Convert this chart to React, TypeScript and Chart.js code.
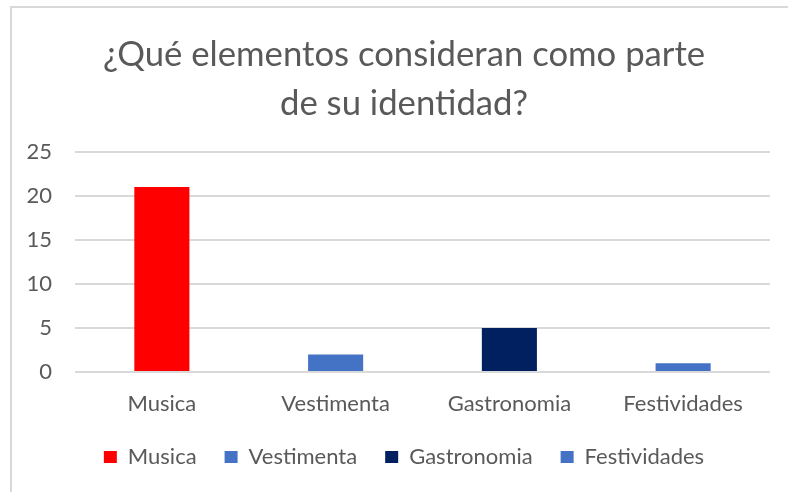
import { useEffect, useRef } from "react";
import { Chart, registerables } from "chart.js";

Chart.register(...registerables);

const categories = ["Musica", "Vestimenta", "Gastronomia", "Festividades"];
const values = [21, 2, 5, 1];
const barColors = ["#FF0000", "#4472C4", "#002060", "#4472C4"];
const titleLines = ["¿Qué elementos consideran como parte", "de su identidad?"];
const yMin = 0;
const yMax = 25;
const yStep = 5;

const FONT = "Lato";
const TEXT = "#595959";

export default function App() {
  const ref = useRef<HTMLCanvasElement>(null);
  useEffect(() => {
    const chart = new Chart(ref.current!, {
      type: "bar",
      data: {
        labels: categories,
        datasets: [
          {
            data: values,
            backgroundColor: barColors,
            borderWidth: 0,
            categoryPercentage: 1,
            barPercentage: 0.317,
          },
        ],
      },
      options: {
        animation: false,
        responsive: false,
        maintainAspectRatio: false,
        layout: { padding: { left: 0, right: -20, top: 0, bottom: 14 } },
        plugins: {
          title: {
            display: true,
            text: titleLines,
            color: TEXT,
            font: { family: FONT, size: 34.7, weight: "normal", lineHeight: 1.41 },
            padding: { top: 30, bottom: 24 },
          },
          legend: {
            position: "bottom",
            labels: {
              generateLabels: () =>
                categories.map((cat, i) => ({
                  text: cat,
                  fillStyle: barColors[i],
                  strokeStyle: barColors[i],
                  lineWidth: 0,
                  hidden: false,
                  index: i,
                  fontColor: TEXT,
                })),
              boxWidth: 13,
              boxHeight: 12,
              color: TEXT,
              font: { family: FONT, size: 22 },
              padding: 28,
            },
          },
          tooltip: { enabled: false },
        },
        scales: {
          x: {
            grid: { display: false, drawTicks: false },
            border: { display: false },
            ticks: { color: TEXT, font: { family: FONT, size: 22 }, padding: 19 },
            afterFit: (s: any) => {
              s.height = 46;
            },
          },
          y: {
            min: yMin,
            max: yMax,
            ticks: { stepSize: yStep, color: TEXT, font: { family: FONT, size: 22 }, padding: 23 },
            grid: { color: "#d9d9d9", lineWidth: 2, drawTicks: false },
            border: { display: false },
            afterFit: (s: any) => {
              s.width = 75;
            },
          },
          yRight: {
            type: "linear",
            position: "right",
            ticks: { display: false },
            grid: { display: false, drawTicks: false },
            border: { display: false },
            afterFit: (s: any) => {
              s.width = 38;
            },
          },
        },
      },
    });
    return () => chart.destroy();
  }, []);

  return (
    <div style={{ position: "fixed", left: 0, top: 0, width: 788, height: 492, background: "#fff", overflow: "hidden" }}>
      <div
        style={{
          position: "absolute",
          left: 10,
          top: 6,
          width: 800,
          height: 500,
          borderTop: "2px solid #d9d9d9",
          borderLeft: "2px solid #d9d9d9",
        }}
      />
      <canvas ref={ref} width={788} height={492} style={{ position: "absolute", left: 0, top: 0, width: 788, height: 492 }} />
    </div>
  );
}
